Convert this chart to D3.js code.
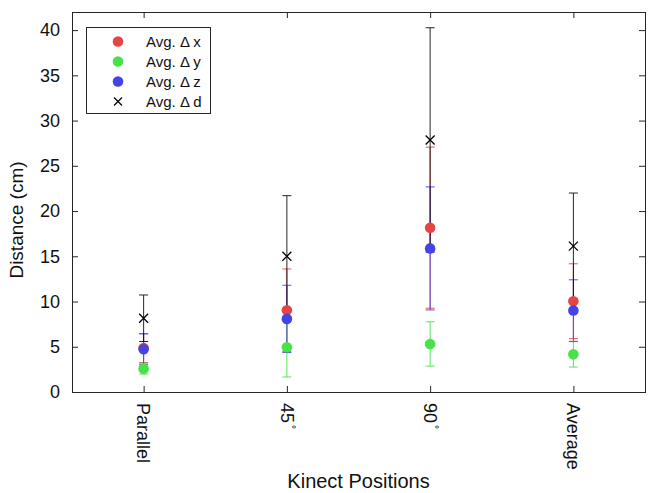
<!DOCTYPE html>
<html>
<head>
<meta charset="utf-8">
<script src="https://cdn.jsdelivr.net/npm/d3@7"></script>
<style>
    body { margin: 0; background: #fff; }
    svg text { font-family: "Liberation Sans", Arial, sans-serif; fill: #111; }
</style>
</head>
<body>
<div id="chart"></div>
<script>
//----- DATA ---------------------------------------//
var categories = ['Parallel', '45', '90', 'Average'];
var degreeMark = [false, true, true, false];
var avgX = [4.85, 9.04, 18.16, 10.03];
var errX = [1.6, 4.56, 8.9, 4.14];
var avgY = [2.58, 4.94, 5.31, 4.16];
var errY = [0.6, 3.28, 2.45, 1.4];
var avgZ = [4.72, 8.08, 15.87, 9.0];
var errZ = [1.7, 3.72, 6.8, 3.4];
var avgD = [8.15, 15.0, 27.86, 16.12];
var errD = [2.57, 6.7, 12.4, 5.87];
var yTicks = [0, 5, 10, 15, 20, 25, 30, 35, 40];
var legendLabels = ['Avg. \u0394 x', 'Avg. \u0394 y', 'Avg. \u0394 z', 'Avg. \u0394 d'];

(function (d3) {
    'use strict';

        //----- SETTINGS -----------------------------------//
    var WIDTH = 651,
        HEIGHT = 493,
        LEFT = 72,
        RIGHT = 645,
        TOP = 12,
        BOTTOM = 392,
        TICK_LEN = 6,
        CAP = 4.5,
        DOT_R = 5.3,
        CROSS = 4.5,
        TICK_FONT = 18,
        AXIS_COLOR = '#262626',
        RED = '#e84444',
        GREEN = '#46e246',
        BLUE = '#4444e4';

    var series = [
        { avg: avgX, err: errX, color: RED, mark: 'dot' },
        { avg: avgY, err: errY, color: GREEN, mark: 'dot' },
        { avg: avgZ, err: errZ, color: BLUE, mark: 'dot' },
        { avg: avgD, err: errD, color: '#000', mark: 'cross' }
    ];

    var x = d3.scaleLinear().domain([0.5, categories.length + 0.5]).range([LEFT, RIGHT]);
    var y = d3.scaleLinear().domain([0, 42]).range([BOTTOM, TOP]);

    var svg = d3.select('#chart').append('svg')
        .attr('width', WIDTH)
        .attr('height', HEIGHT);

    //----- AXES (ticks inside, box on) ----------------//
    var idx = d3.range(1, categories.length + 1);

    svg.append('g')
        .attr('transform', 'translate(0,' + BOTTOM + ')')
        .call(d3.axisBottom(x).tickValues(idx).tickSizeInner(-TICK_LEN).tickSizeOuter(0).tickFormat(''));
    svg.append('g')
        .attr('transform', 'translate(0,' + TOP + ')')
        .call(d3.axisTop(x).tickValues(idx).tickSizeInner(-TICK_LEN).tickSizeOuter(0).tickFormat(''));
    svg.append('g')
        .attr('transform', 'translate(' + LEFT + ',0)')
        .call(d3.axisLeft(y).tickValues(yTicks).tickSizeInner(-TICK_LEN).tickSizeOuter(0).tickPadding(12));
    svg.append('g')
        .attr('transform', 'translate(' + RIGHT + ',0)')
        .call(d3.axisRight(y).tickValues(yTicks).tickSizeInner(-TICK_LEN).tickSizeOuter(0).tickFormat(''));

    svg.selectAll('.domain').remove();
    svg.selectAll('.tick line').attr('stroke', AXIS_COLOR);
    svg.selectAll('.tick text')
        .attr('font-size', TICK_FONT)
        .attr('font-family', '"Liberation Sans", Arial, sans-serif')
        .attr('fill', '#111');

    svg.append('rect')
        .attr('x', LEFT + 0.5)
        .attr('y', TOP + 0.5)
        .attr('width', RIGHT - LEFT)
        .attr('height', BOTTOM - TOP)
        .attr('fill', 'none')
        .attr('stroke', AXIS_COLOR);

    //----- ROTATED CATEGORY LABELS --------------------//
    var catLabel = svg.selectAll('.cat')
        .data(categories).enter()
        .append('text')
            .attr('class', 'cat')
            .attr('font-size', TICK_FONT)
            .attr('transform', function (d, i) {
                return 'translate(' + x(i + 1) + ',' + (BOTTOM + 11) + ') rotate(90)';
            })
            .attr('dy', '0.35em');
    catLabel.append('tspan').text(function (d) { return d; });
    catLabel.filter(function (d, i) { return degreeMark[i]; })
        .append('tspan')
            .attr('font-size', 10)
            .attr('dx', 2)
            .attr('dy', -7)
            .text('\u00b0');

    //----- AXIS TITLES --------------------------------//
    svg.append('text')
        .attr('text-anchor', 'middle')
        .attr('font-size', 20)
        .attr('x', (LEFT + RIGHT) / 2)
        .attr('y', 488)
        .text('Kinect Positions');

    svg.append('text')
        .attr('text-anchor', 'middle')
        .attr('font-size', 19)
        .attr('transform', 'translate(23,220) rotate(-90)')
        .text('Distance (cm)');

    //----- ERROR BARS ---------------------------------//
    var plot = svg.append('g');

    series.forEach(function (s) {
        var g = plot.append('g')
            .attr('stroke', s.color)
            .attr('stroke-width', 1)
            .attr('opacity', s.mark === 'cross' ? 0.85 : 0.9);
        idx.forEach(function (c, i) {
            var cx = x(c),
                lo = y(s.avg[i] - s.err[i]),
                hi = y(s.avg[i] + s.err[i]);
            g.append('line').attr('x1', cx).attr('x2', cx).attr('y1', lo).attr('y2', hi);
            g.append('line').attr('x1', cx - CAP).attr('x2', cx + CAP).attr('y1', lo).attr('y2', lo);
            g.append('line').attr('x1', cx - CAP).attr('x2', cx + CAP).attr('y1', hi).attr('y2', hi);
        });
    });

    //----- MARKERS ------------------------------------//
    series.forEach(function (s) {
        if (s.mark === 'dot') {
            plot.append('g').selectAll('circle')
                .data(s.avg).enter()
                .append('circle')
                    .attr('cx', function (d, i) { return x(i + 1); })
                    .attr('cy', function (d) { return y(d); })
                    .attr('r', DOT_R)
                    .attr('fill', s.color);
        } else {
            plot.append('g').selectAll('path')
                .data(s.avg).enter()
                .append('path')
                    .attr('d', function (d, i) { return crossPath(x(i + 1), y(d), CROSS); })
                    .attr('stroke', s.color)
                    .attr('stroke-width', 1.3)
                    .attr('fill', 'none');
        }
    });

    //----- LEGEND -------------------------------------//
    var legend = svg.append('g').attr('transform', 'translate(86,27)');
    legend.append('rect')
        .attr('x', 0.5).attr('y', 0.5)
        .attr('width', 124).attr('height', 86)
        .attr('fill', '#fff')
        .attr('stroke', AXIS_COLOR);

    var item = legend.selectAll('.item')
        .data(series).enter()
        .append('g')
            .attr('transform', function (d, i) { return 'translate(0,' + (14.5 + i * 20) + ')'; });

    item.filter(function (d) { return d.mark === 'dot'; })
        .append('circle')
            .attr('cx', 32)
            .attr('r', DOT_R)
            .attr('fill', function (d) { return d.color; });
    item.filter(function (d) { return d.mark === 'cross'; })
        .append('path')
            .attr('d', crossPath(32, 0, 4))
            .attr('stroke', '#000')
            .attr('stroke-width', 1.2);

    item.append('text')
        .attr('x', 60)
        .attr('dy', '0.35em')
        .attr('font-size', 15)
        .text(function (d, i) { return legendLabels[i]; });

    //----- HELPERS ------------------------------------//
    function crossPath(cx, cy, r) {
        return 'M' + (cx - r) + ',' + (cy - r) + 'L' + (cx + r) + ',' + (cy + r)
            + 'M' + (cx - r) + ',' + (cy + r) + 'L' + (cx + r) + ',' + (cy - r);
    }

})(d3);
</script>
</body>
</html>
